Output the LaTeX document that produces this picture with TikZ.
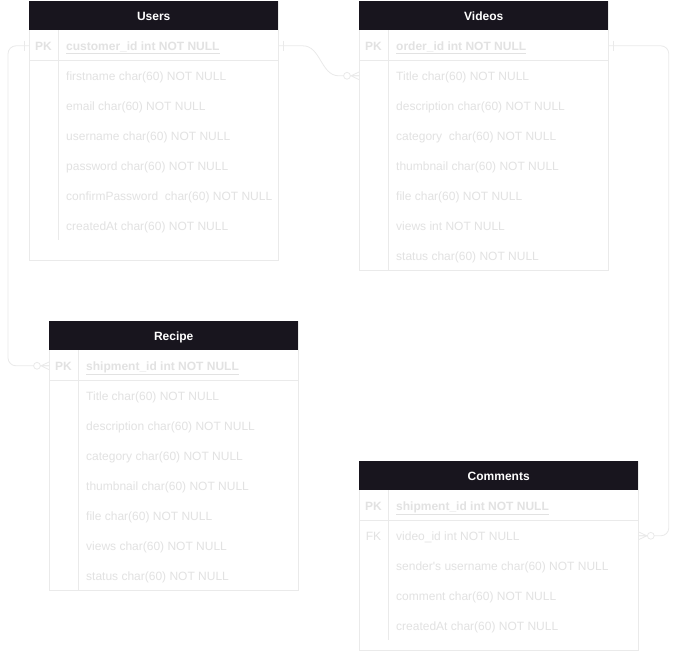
\documentclass[tikz,border=0pt]{standalone}
\usepackage{fontspec}
\setmainfont{Liberation Sans}
\definecolor{hdr}{HTML}{18151E}
\definecolor{txt}{HTML}{E2E2E2}
\definecolor{ln}{HTML}{EAEAEA}
\tikzset{
  tbl/.style={draw=ln,line width=0.8pt,fill=white,inner sep=0pt,anchor=north west},
  hdrbox/.style={fill=hdr,inner sep=0pt,anchor=north west,text=white,text height=8.6pt,text depth=0pt,font=\bfseries\fontsize{12}{14}\selectfont},
  fld/.style={anchor=west,inner sep=0pt,yshift=-0.8pt,text height=8.6pt,text depth=0pt,text=txt,font=\fontsize{12}{14}\selectfont},
  pkf/.style={fld,font=\bfseries\fontsize{12}{14}\selectfont},
  key/.style={fld,anchor=center,font=\bfseries\fontsize{12}{14}\selectfont},
  fkey/.style={fld,anchor=center},
  grid/.style={draw=ln,line width=0.8pt},
  conn/.style={draw=ln,line width=0.8pt},
  tickmark/.pic={\draw[conn] (5,-5) -- (5,5);},
  zeromany/.pic={\draw[conn] (-8,0) -- (0,-3.8) (-8,0) -- (0,3.8) (-8,0) -- (0,0);
                 \draw[conn,fill=white] (-12,0) circle (3.4pt);},
}
\begin{document}
\begin{tikzpicture}[x=1pt,y=-1pt]
\fill[white] (0,0) rectangle (678,651);
\useasboundingbox (0,0) rectangle (678,651);

% ---------- Users ----------
\node[tbl,minimum width=249pt,minimum height=259pt] (users) at (29,1) {};
\node[hdrbox,minimum width=249pt,minimum height=29pt] (usersh) at (29,1) {Users};
\draw[grid] (29,60) -- (278,60);
\draw[grid] (58,30) -- (58,240);
\node[key] (upk) at (43.5,45) {PK};
\node[pkf] (u1) at (66,45) {\underline{customer\_id int NOT NULL}};
\node[fld] (u2) at (66,75) {firstname char(60) NOT NULL};
\node[fld] (u3) at (66,105) {email char(60) NOT NULL};
\node[fld] (u4) at (66,135) {username char(60) NOT NULL};
\node[fld] (u5) at (66,165) {password char(60) NOT NULL};
\node[fld] (u6) at (66,195) {confirmPassword~ char(60) NOT NULL};
\node[fld] (u7) at (66,225) {createdAt char(60) NOT NULL};

% ---------- Videos ----------
\node[tbl,minimum width=249pt,minimum height=269pt] (videos) at (359,1) {};
\node[hdrbox,minimum width=249pt,minimum height=29pt] (videosh) at (359,1) {Videos};
\draw[grid] (359,60) -- (608,60);
\draw[grid] (388,30) -- (388,270);
\node[key] (vpk) at (373.5,45) {PK};
\node[pkf] (v1) at (396,45) {\underline{order\_id int NOT NULL}};
\node[fld] (v2) at (396,75) {Title char(60) NOT NULL};
\node[fld] (v3) at (396,105) {description char(60) NOT NULL};
\node[fld] (v4) at (396,135) {category~ char(60) NOT NULL};
\node[fld] (v5) at (396,165) {thumbnail char(60) NOT NULL};
\node[fld] (v6) at (396,195) {file char(60) NOT NULL};
\node[fld] (v7) at (396,225) {views int NOT NULL};
\node[fld] (v8) at (396,255) {status char(60) NOT NULL};

% ---------- Recipe ----------
\node[tbl,minimum width=249pt,minimum height=269pt] (recipe) at (49,321) {};
\node[hdrbox,minimum width=249pt,minimum height=29pt] (reciph) at (49,321) {Recipe};
\draw[grid] (49,380) -- (298,380);
\draw[grid] (78,350) -- (78,590);
\node[key] (rpk) at (63.5,365) {PK};
\node[pkf] (r1) at (86,365) {\underline{shipment\_id int NOT NULL}};
\node[fld] (r2) at (86,395) {Title char(60) NOT NULL};
\node[fld] (r3) at (86,425) {description char(60) NOT NULL};
\node[fld] (r4) at (86,455) {category char(60) NOT NULL};
\node[fld] (r5) at (86,485) {thumbnail char(60) NOT NULL};
\node[fld] (r6) at (86,515) {file char(60) NOT NULL};
\node[fld] (r7) at (86,545) {views char(60) NOT NULL};
\node[fld] (r8) at (86,575) {status char(60) NOT NULL};

% ---------- Comments ----------
\node[tbl,minimum width=279pt,minimum height=189pt] (comments) at (359,461) {};
\node[hdrbox,minimum width=279pt,minimum height=29pt] (commh) at (359,461) {Comments};
\draw[grid] (359,520) -- (638,520);
\draw[grid] (388,490) -- (388,640);
\node[key] (cpk) at (373.5,505) {PK};
\node[fkey] (cfk) at (373.5,535) {FK};
\node[pkf] (c1) at (396,505) {\underline{shipment\_id int NOT NULL}};
\node[fld] (c2) at (396,535) {video\_id int NOT NULL};
\node[fld] (c3) at (396,565) {sender\textquotesingle s username char(60) NOT NULL};
\node[fld] (c4) at (396,595) {comment char(60) NOT NULL};
\node[fld] (c5) at (396,625) {createdAt char(60) NOT NULL};

% ---------- Connectors ----------
\draw[conn] (users.east |- u1) -- ++(24,0) .. controls +(18,0) and +(-18,0) .. ++(36,30) -- (videos.west |- v2);
\path (users.east |- u1) pic{tickmark};
\path (videos.west |- v2) pic{zeromany};

\draw[conn,rounded corners=8pt] (users.west |- u1) -- ++(-21,0) |- (recipe.west |- r1);
\path (users.west |- u1) pic[xscale=-1]{tickmark};
\path (recipe.west |- r1) pic{zeromany};

\draw[conn,rounded corners=8pt] (videos.east |- v1) -- ++(60,0) |- (comments.east |- c2);
\path (videos.east |- v1) pic{tickmark};
\path (comments.east |- c2) pic[xscale=-1]{zeromany};
\end{tikzpicture}
\end{document}
